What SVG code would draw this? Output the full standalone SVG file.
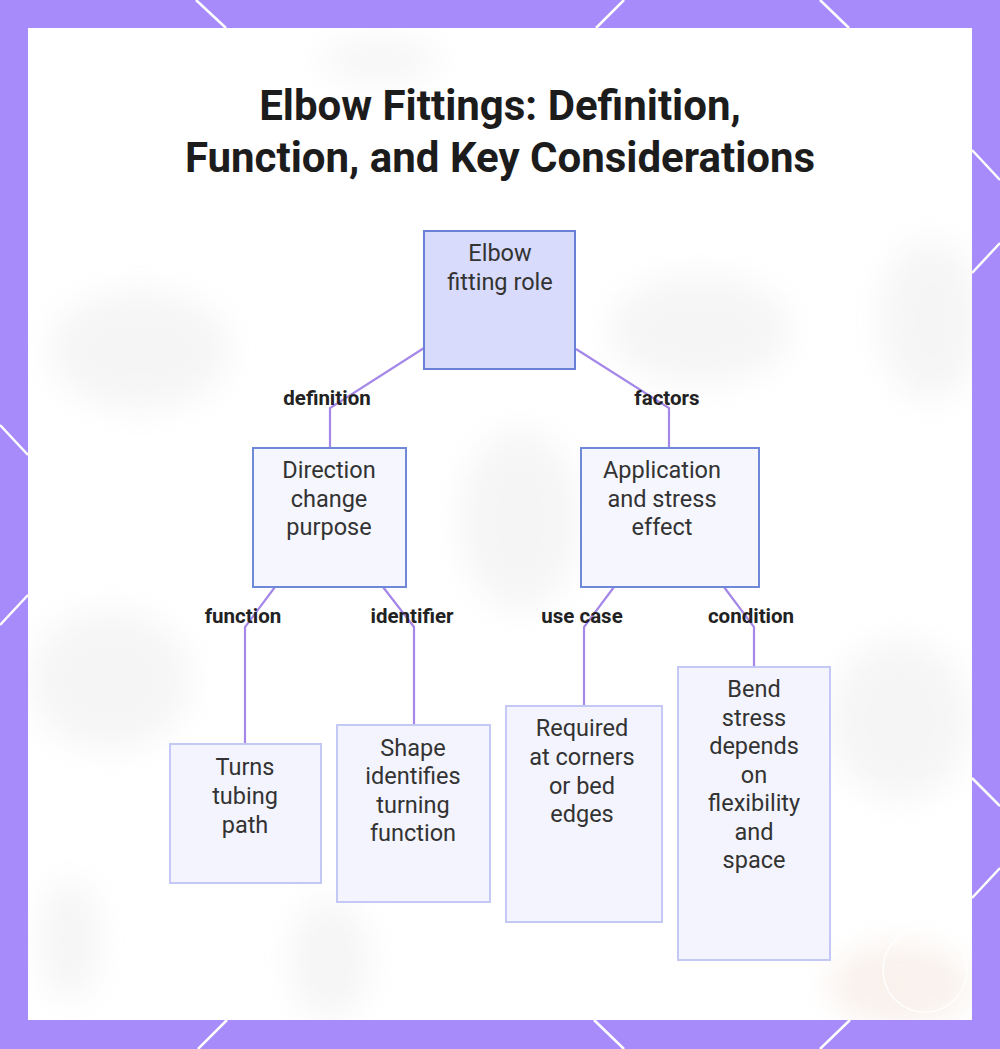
<svg xmlns="http://www.w3.org/2000/svg" width="1000" height="1049" viewBox="0 0 1000 1049">
<defs>
<filter id="blur" x="-50%" y="-50%" width="200%" height="200%"><feGaussianBlur stdDeviation="16"/></filter>
<clipPath id="panel"><rect x="28" y="28" width="944" height="992"/></clipPath>
<style>
.title{font-family:Roboto,"Liberation Sans",sans-serif;font-weight:700;font-size:42px;fill:#1c1c1c;text-anchor:middle}
.nt{font-family:Roboto,"Liberation Sans",sans-serif;font-size:23.5px;fill:#333333;text-anchor:middle}
.lbl{font-family:Roboto,"Liberation Sans",sans-serif;font-weight:700;font-size:20.5px;fill:#222222;text-anchor:middle}
.root{fill:#d8dbfb;stroke:#6a7fd6;stroke-width:2}
.mid{fill:#f5f6fe;stroke:#7088da;stroke-width:2}
.leaf{fill:#f3f4fd;stroke:#c3c9f4;stroke-width:2}
.edge{fill:none;stroke:#a487e8;stroke-width:2.2}
.deco{stroke:#ffffff;stroke-width:2.5}
</style>
</defs>
<rect x="0" y="0" width="1000" height="1049" fill="#a78bfa"/>
<g class="deco">
<line x1="196" y1="0" x2="226" y2="28"/>
<line x1="624" y1="0" x2="596" y2="28"/>
<line x1="820" y1="0" x2="849" y2="28"/>
<line x1="198" y1="1049" x2="227" y2="1020"/>
<line x1="624" y1="1049" x2="594" y2="1020"/>
<line x1="820" y1="1049" x2="850" y2="1020"/>
<line x1="972" y1="150" x2="1000" y2="180"/>
<line x1="972" y1="273" x2="1000" y2="243"/>
<line x1="972" y1="778" x2="1000" y2="806"/>
<line x1="972" y1="898" x2="1000" y2="868"/>
<line x1="0" y1="425" x2="28" y2="455"/>
<line x1="0" y1="625" x2="28" y2="595"/>
</g>
<rect x="28" y="28" width="944" height="992" fill="#ffffff"/>
<g clip-path="url(#panel)">
<g filter="url(#blur)" fill="#ececec" opacity="0.5">
<ellipse cx="140" cy="350" rx="90" ry="60"/>
<ellipse cx="700" cy="330" rx="90" ry="55"/>
<ellipse cx="930" cy="320" rx="50" ry="80"/>
<ellipse cx="110" cy="680" rx="80" ry="70"/>
<ellipse cx="900" cy="720" rx="70" ry="80"/>
<ellipse cx="520" cy="520" rx="60" ry="90"/>
<ellipse cx="330" cy="960" rx="40" ry="60"/>
<ellipse cx="70" cy="940" rx="30" ry="60"/>
<ellipse cx="380" cy="60" rx="60" ry="20"/>
</g>
<g filter="url(#blur)" fill="#f6ebe4" opacity="0.7">
<ellipse cx="900" cy="985" rx="70" ry="40"/>
</g>
<circle cx="925" cy="970" r="42" fill="none" stroke="#ffffff" stroke-width="1.5" opacity="0.9"/>
</g>
<text class="title" x="500" y="120">Elbow Fittings: Definition,</text>
<text class="title" x="500" y="172">Function, and Key Considerations</text>
<g id="connectors">
<polyline class="edge" points="424,348 330,408 330,448"/>
<polyline class="edge" points="576,349 669,408 669,448"/>
<polyline class="edge" points="275,587 245,627 245,744"/>
<polyline class="edge" points="383,587 414,627 414,725"/>
<polyline class="edge" points="614,587 584,627 584,706"/>
<polyline class="edge" points="724,587 754,627 754,667"/>
<text class="lbl" x="327" y="405">definition</text>
<text class="lbl" x="667" y="405">factors</text>
<text class="lbl" x="243" y="623">function</text>
<text class="lbl" x="412" y="623">identifier</text>
<text class="lbl" x="582" y="623">use case</text>
<text class="lbl" x="751" y="623">condition</text>
</g>
<g id="node-root">
<rect class="root" x="424" y="231" width="151" height="138"/>
<text class="nt" x="500" y="261">Elbow</text>
<text class="nt" x="500" y="290">fitting role</text>
</g>
<g id="node-direction">
<rect class="mid" x="253" y="448" width="153" height="139"/>
<text class="nt" x="329" y="478">Direction</text>
<text class="nt" x="329" y="507">change</text>
<text class="nt" x="329" y="535">purpose</text>
</g>
<g id="node-application">
<rect class="mid" x="581" y="448" width="178" height="139"/>
<text class="nt" x="662" y="478">Application</text>
<text class="nt" x="662" y="507">and stress</text>
<text class="nt" x="662" y="535">effect</text>
</g>
<g id="node-turns">
<rect class="leaf" x="170" y="744" width="151" height="139"/>
<text class="nt" x="245" y="775">Turns</text>
<text class="nt" x="245" y="804">tubing</text>
<text class="nt" x="245" y="833">path</text>
</g>
<g id="node-shape">
<rect class="leaf" x="337" y="725" width="153" height="177"/>
<text class="nt" x="413" y="756">Shape</text>
<text class="nt" x="413" y="784">identifies</text>
<text class="nt" x="413" y="813">turning</text>
<text class="nt" x="413" y="841">function</text>
</g>
<g id="node-required">
<rect class="leaf" x="506" y="706" width="156" height="216"/>
<text class="nt" x="582" y="736">Required</text>
<text class="nt" x="582" y="765">at corners</text>
<text class="nt" x="582" y="794">or bed</text>
<text class="nt" x="582" y="822">edges</text>
</g>
<g id="node-bend">
<rect class="leaf" x="678" y="667" width="152" height="293"/>
<text class="nt" x="754" y="697">Bend</text>
<text class="nt" x="754" y="726">stress</text>
<text class="nt" x="754" y="754">depends</text>
<text class="nt" x="754" y="783">on</text>
<text class="nt" x="754" y="811">flexibility</text>
<text class="nt" x="754" y="840">and</text>
<text class="nt" x="754" y="868">space</text>
</g>
</svg>
